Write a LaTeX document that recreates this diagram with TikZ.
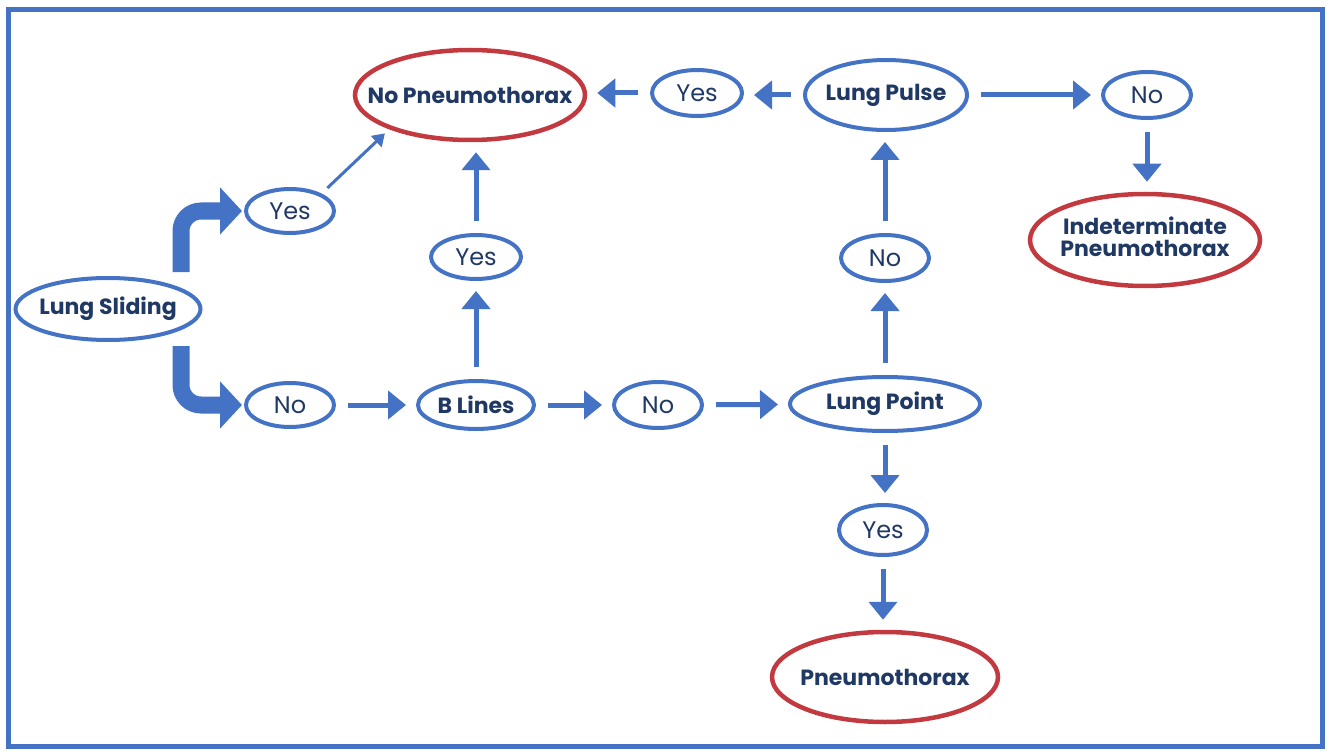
\documentclass[tikz,border=0pt]{standalone}
\usepackage{fontspec}
\setmainfont{Poppins}
\usetikzlibrary{shapes.geometric,arrows.meta}
\definecolor{lineblue}{HTML}{4472C4}
\definecolor{navy}{HTML}{1F3864}
\definecolor{dred}{HTML}{C23A3F}
\begin{document}
\begin{tikzpicture}[x=1pt,y=-1pt,
  oval/.style={ellipse, draw=lineblue, line width=4pt, inner sep=0pt, text=navy,
    font=\fontsize{24}{28}\selectfont},
  boldoval/.style={oval, font=\bfseries\fontsize{22}{26}\selectfont},
  endoval/.style={boldoval, draw=dred, line width=4.5pt},
  arr/.style={draw=lineblue, line width=5pt, -{Triangle[width=28pt,length=18pt]},
    shorten <=12pt, shorten >=10pt},
  thinarr/.style={draw=lineblue, line width=3pt, -{Triangle[width=15pt,length=12pt]},
    shorten <=8pt, shorten >=6pt},
  bigarr/.style={draw=lineblue, line width=17pt, rounded corners=20pt,
    -{Triangle[width=46pt,length=22pt]}, shorten >=2pt}
]
\useasboundingbox (0,0) rectangle (1330,754);
\fill[white] (0,0) rectangle (1330,754);
\draw[lineblue, line width=5pt] (8,10) rectangle (1322,746);

% nodes
\node[boldoval, minimum width=185pt, minimum height=62pt] (ls) at (108,309) {\makebox[0pt]{Lung Sliding}};
\node[oval, minimum width=88pt, minimum height=44pt] (yes1) at (290,211) {\makebox[0pt]{Yes}};
\node[oval, minimum width=88pt, minimum height=44pt] (no1) at (290,405) {\makebox[0pt]{No}};
\node[endoval, minimum width=230pt, minimum height=90pt] (np) at (470,95) {\makebox[0pt]{No Pneumothorax}};
\node[oval, minimum width=90pt, minimum height=46pt] (yes2) at (697,93) {\makebox[0pt]{Yes}};
\node[boldoval, minimum width=162pt, minimum height=70pt] (lpu) at (886,95) {\makebox[0pt]{Lung Pulse}};
\node[oval, minimum width=88pt, minimum height=46pt] (notr) at (1147,95) {\makebox[0pt]{No}};
\node[endoval, minimum width=230pt, minimum height=92pt] (ind) at (1145,240)
  {\makebox[0pt]{\begin{tabular}{@{}c@{}}Indeterminate\\[-4pt]Pneumothorax\end{tabular}}};
\node[oval, minimum width=90pt, minimum height=44pt] (yes3) at (476,257) {\makebox[0pt]{Yes}};
\node[boldoval, minimum width=116pt, minimum height=48pt] (bl) at (476,405) {\makebox[0pt]{B Lines}};
\node[oval, minimum width=88pt, minimum height=46pt] (no2) at (658,405) {\makebox[0pt]{No}};
\node[boldoval, minimum width=190pt, minimum height=54pt] (lpo) at (885,404) {\makebox[0pt]{Lung Point}};
\node[oval, minimum width=88pt, minimum height=46pt] (no3) at (885,258) {\makebox[0pt]{No}};
\node[oval, minimum width=88pt, minimum height=50pt] (yes4) at (883,530) {\makebox[0pt]{Yes}};
\node[endoval, minimum width=226pt, minimum height=90pt] (px) at (885,677) {\makebox[0pt]{Pneumothorax}};

% connectors
\draw[bigarr] ([xshift=73pt,yshift=4pt]ls.north) |- (yes1.west);
\draw[bigarr] ([xshift=73pt,yshift=-4pt]ls.south) |- (no1.west);
\draw[thinarr] (yes1.29) -- (np.203);
\draw[arr] (no1) -- (bl);
\draw[arr] (bl) -- (no2);
\draw[arr] (no2) -- (lpo);
\draw[arr] (bl) -- (yes3);
\draw[arr] (yes3.north) -- (yes3.north |- np.south);
\draw[arr] (lpo) -- (no3);
\draw[arr] (no3.north) -- (no3.north |- lpu.south);
\draw[arr] (lpu.west) -- (lpu.west -| yes2.east);
\draw[arr] (yes2.west) -- (yes2.west -| np.east);
\draw[arr] (lpu) -- (notr);
\draw[arr] (notr.south) -- (notr.south |- ind.north);
\draw[arr] (lpo.south) -- (lpo.south |- yes4.north);
\draw[arr] (yes4.south) -- (yes4.south |- px.north);
\end{tikzpicture}
\end{document}
